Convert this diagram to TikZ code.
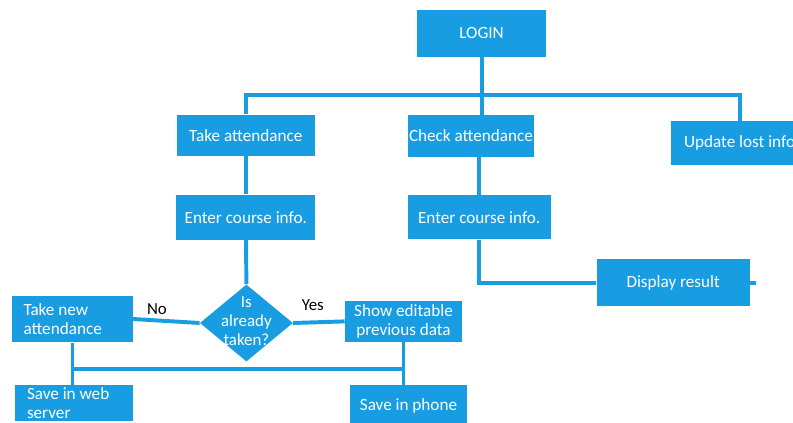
\documentclass[tikz,border=0pt]{standalone}
\usepackage{fontspec}
\setmainfont{Carlito}
\usepackage{xcolor}
\usepackage{tikz}
\usetikzlibrary{arrows.meta,positioning,calc,shapes}

\definecolor{flowblue}{RGB}{24,157,226}

\begin{document}
\begin{tikzpicture}[
  box/.style={rectangle, fill=flowblue, text=white, align=center, inner sep=0pt, font=\fontsize{12.2}{14}\selectfont},
  leftbox/.style={box, align=flush left, text width=2.45cm, inner xsep=0.28cm},
  decision/.style={diamond, fill=flowblue, minimum width=2.325cm, minimum height=1.925cm, inner sep=0pt},
  link/.style={draw=flowblue, line width=2.8pt},
  lbl/.style={font=\fontsize{12}{14}\selectfont, text=black, inner sep=1pt}
]
\useasboundingbox (0,0) rectangle (19.825,10.575);

\node[box, minimum width=3.225cm, minimum height=1.175cm] (login) at (12.04,9.74) {LOGIN};
\node[box, minimum width=3.46cm, minimum height=1.04cm] (take) at (6.145,7.19) {Take attendance};
\node[box, minimum width=3.17cm, minimum height=1.04cm] (check) at (11.775,7.18) {Check attendance};
\node[box, minimum width=3.43cm, minimum height=1.11cm] (update) at (18.49,7.0) {Update lost info};
\node[box, minimum width=3.48cm, minimum height=1.13cm, below=0.95cm of take] (enterL) {Enter course info.};
\node[box, minimum width=3.575cm, minimum height=1.11cm] (enterR) at (11.98,5.145) {Enter course info.};
\node[box, minimum width=3.83cm, minimum height=1.175cm] (display) at (16.83,3.51) {Display result};

\node[decision] (dia) at (6.16,2.5) {};
\node[box, fill=none, font=\fontsize{12}{13.5}\selectfont] (diaq) at ($(dia)+(0,0.05)$) {Is\\already\\taken?};
\node[leftbox, minimum height=1.165cm] (newatt) at (1.8125,2.6) {Take new\\attendance};
\node[box, minimum width=2.925cm, minimum height=1.025cm] (showed) at (10.0875,2.54) {Show editable\\previous data};
\node[leftbox, minimum height=0.9cm, text width=2.35cm, inner xsep=0.3cm] (saveweb) at (1.85,0.5) {Save in web\\server};
\node[box, minimum width=2.925cm, minimum height=1.05cm] (savephone) at (10.2125,0.425) {Save in phone};

\coordinate (bus) at (0,8.2);
\coordinate (mid) at (0,1.35);

\draw[link] (login.south) -- (login.south |- check.north);
\draw[link] (take.north) -- (take.north |- bus) -| (update.north);
\draw[link] (take) -- (enterL);
\draw[link] (enterL) -- (dia.north);
\draw[link] (enterR.north) -- (enterR.north |- check.south);
\draw[link] (enterR.south) |- (display.west);
\draw[link] (display.east) -- ++(0.15,0);
\draw[link] (dia.west) -- node[lbl, pos=0.64, above=2pt] (no) {No} (newatt.east);
\draw[link] (dia.east) -- node[lbl, pos=0.38, above=6pt] (yes) {Yes} (showed.west);
\draw[link] (newatt.south) -- (saveweb.north -| newatt.south);
\draw[link] (showed.south) -- (showed.south |- savephone.north);
\draw[link] (newatt.south |- mid) -- (showed.south |- mid);

\end{tikzpicture}
\end{document}
